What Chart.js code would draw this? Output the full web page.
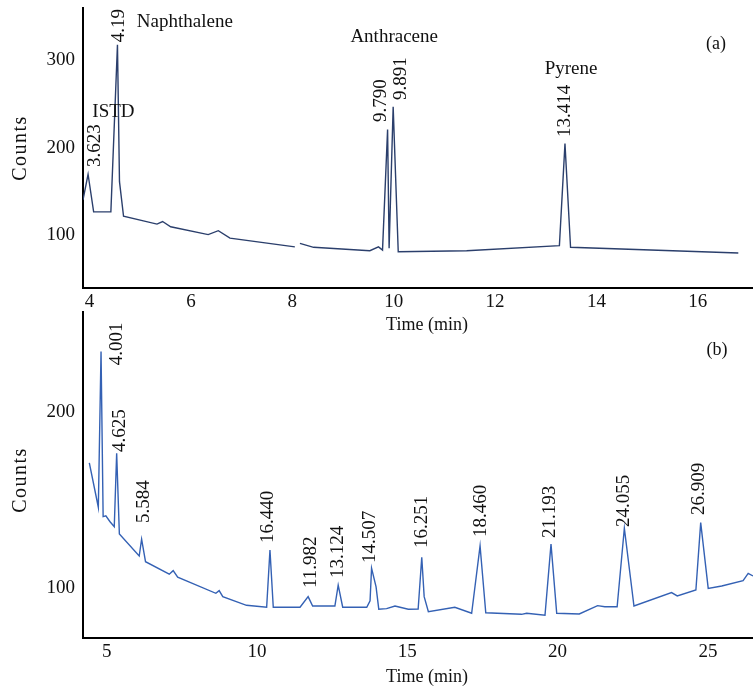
<!DOCTYPE html>
<html>
<head>
<meta charset="utf-8">
<script src="https://cdn.jsdelivr.net/npm/chart.js@4/dist/chart.umd.min.js"></script>
<style>
  body { margin: 0; background: #fff; }
  .wrap { position: relative; width: 753px; height: 688px; }
  canvas { position: absolute; left: 0; }
  #chartA { top: 0; }
  #chartB { top: 300px; }
</style>
</head>
<body>
<div class="wrap">
  <canvas id="chartA" width="753" height="340"></canvas>
  <canvas id="chartB" width="753" height="388"></canvas>
</div>
<script>
// (a) standard chromatogram
const timesA = [3.87, 3.97, 4.08, 4.42, 4.55, 4.59, 4.67, 5.33, 5.44, 5.60, 6.34, 6.54, 6.77, 8.05, 8.10, 8.15, 8.42, 9.53, 9.70, 9.78, 9.88, 9.91, 9.99, 10.09, 11.44, 13.27, 13.38, 13.49, 16.80];
const countsA = [140.6, 170, 127, 127, 318, 161.5, 122, 113, 116, 110, 101, 105.5, 97, 87, null, 91, 86.5, 82.6, 87, 83.4, 221, 85.4, 247, 81.5, 82.6, 88.4, 205, 86.5, 80];
const xTicksA = [4, 6, 8, 10, 12, 14, 16];
const yTicksA = [100, 200, 300];
const peakLabelsA = ['3.623', '4.19', '9.790', '9.891', '13.414'];
const compoundsA = ['ISTD', 'Naphthalene', 'Anthracene', 'Pyrene'];

// (b) sample chromatogram
const timesB = [4.42, 4.72, 4.81, 4.88, 4.97, 5.11, 5.25, 5.33, 5.42, 6.08, 6.16, 6.29, 7.08, 7.21, 7.36, 8.63, 8.74, 8.86, 9.65, 10.32, 10.43, 10.54, 11.43, 11.70, 11.85, 12.59, 12.70, 12.85, 13.65, 13.76, 13.81, 13.96, 14.05, 14.31, 14.59, 15.03, 15.36, 15.48, 15.56, 15.70, 16.58, 17.14, 17.42, 17.61, 18.80, 18.97, 19.58, 19.78, 19.97, 20.72, 21.33, 21.57, 21.98, 22.22, 22.54, 23.79, 23.98, 24.60, 24.76, 25.01, 25.46, 26.17, 26.34, 26.5];
const countsB = [171, 145.9, 234, 140.6, 141, 137.7, 134.9, 176.5, 130.8, 118.3, 127.8, 115.1, 108, 110, 106.3, 97.2, 98.7, 95.3, 90.4, 89.3, 121.7, 89.3, 89.3, 95.3, 90, 90, 101.8, 89.3, 89.3, 93, 111.4, 100.8, 88.2, 88.5, 90, 88.2, 88.3, 117.6, 95.3, 86.8, 89.3, 85.9, 124, 86.2, 85.3, 85.9, 84.8, 125, 85.9, 85.5, 90.2, 89.6, 89.6, 134, 90, 97.6, 95.7, 99.1, 137.2, 100, 101.3, 104.4, 108.5, 107];
const xTicksB = [5, 10, 15, 20, 25];
const yTicksB = [100, 200];
const peakLabelsB = ['4.001', '4.625', '5.584', '16.440', '11.982', '13.124', '14.507', '16.251', '18.460', '21.193', '24.055', '26.909'];

const serif = '"Liberation Serif", "Times New Roman", serif';
const ink = '#111';

// text drawn on top of the chart (peak labels, names, axis titles)
const labelPlugin = {
    id: 'labels',
    afterDraw(chart, args, o) {
        const ctx = chart.ctx;
        const xs = chart.scales.x;
        const ys = chart.scales.y;
        ctx.save();
        ctx.fillStyle = ink;

        // retention times, written upward from the anchor
        ctx.font = '19px ' + serif;
        ctx.textAlign = 'left';
        ctx.textBaseline = 'middle';
        o.peakTexts.forEach((t, i) => {
            const p = o.peakPos[i];
            ctx.save();
            ctx.translate(xs.getPixelForValue(p[0]), ys.getPixelForValue(p[1]));
            ctx.rotate(-Math.PI / 2);
            ctx.fillText(t, 0, 0);
            ctx.restore();
        });

        // compound names
        ctx.textAlign = 'center';
        o.nameTexts.forEach((t, i) => {
            const p = o.namePos[i];
            ctx.fillText(t, xs.getPixelForValue(p[0]), ys.getPixelForValue(p[1]));
        });

        // panel letter
        ctx.font = '18px ' + serif;
        ctx.fillText(o.panel, xs.getPixelForValue(o.panelPos[0]), ys.getPixelForValue(o.panelPos[1]));

        // axis titles
        ctx.fillText('Time (min)', 427, o.xTitleY);
        ctx.save();
        ctx.translate(21, o.yTitleY);
        ctx.rotate(-Math.PI / 2);
        ctx.font = '20px ' + serif;
        ctx.letterSpacing = '1.5px';
        ctx.fillText('Counts', 0, 0);
        ctx.restore();

        ctx.restore();
    }
};

function makeChart(id, times, counts, color, xr, yr, xTicks, yTicks, axisH, padTop, labelOpts) {
    const ctx = document.getElementById(id).getContext('2d');
    return new Chart(ctx, {
        type: 'line',
        data: {
            datasets: [{
                data: times.map((t, i) => ({ x: t, y: counts[i] })),
                borderColor: color,
                borderWidth: 1.4,
                pointRadius: 0,
                tension: 0,
                spanGaps: false
            }]
        },
        options: {
            responsive: false,
            animation: false,
            layout: { padding: { top: padTop, right: 0, left: 0, bottom: 0 } },
            scales: {
                x: {
                    type: 'linear',
                    min: xr[0],
                    max: xr[1],
                    afterBuildTicks: s => { s.ticks = xTicks.map(v => ({ value: v })); },
                    afterFit: s => {
                        s.height = axisH;
                        s.paddingLeft = 0;
                        s.paddingRight = 0;
                    },
                    grid: { display: false, drawTicks: false },
                    border: { display: true, color: '#000', width: 2 },
                    ticks: { color: ink, font: { family: serif, size: 19 }, padding: 3, maxRotation: 0 }
                },
                y: {
                    type: 'linear',
                    min: yr[0],
                    max: yr[1],
                    afterBuildTicks: s => { s.ticks = yTicks.map(v => ({ value: v })); },
                    afterFit: s => {
                        s.width = 83;
                        s.paddingTop = 0;
                        s.paddingBottom = 0;
                    },
                    grid: { display: false, drawTicks: false },
                    border: { display: true, color: '#000', width: 2 },
                    ticks: { color: ink, font: { family: serif, size: 19 }, padding: 8 }
                }
            },
            plugins: {
                legend: { display: false },
                tooltip: { enabled: false },
                labels: labelOpts
            }
        },
        plugins: [labelPlugin]
    });
}

document.addEventListener('DOMContentLoaded', function() {
    makeChart('chartA', timesA, countsA, '#2b3f6c', [3.87, 17.09], [40, 360], xTicksA, yTicksA, 52, 8, {
        peakTexts: peakLabelsA,
        peakPos: [[4.11, 178.3], [4.58, 321], [9.76, 229.7], [10.15, 254.9], [13.38, 212.6]],
        nameTexts: compoundsA,
        namePos: [[4.47, 241], [5.88, 344], [10.01, 326.9], [13.50, 290.3]],
        panel: '(a)',
        panelPos: [16.36, 318.9],
        xTitleY: 325,
        yTitleY: 148
    });

    makeChart('chartB', timesB, countsB, '#3461b4', [4.21, 26.5], [71.9, 256.4], xTicksB, yTicksB, 50, 12, {
        peakTexts: peakLabelsB,
        peakPos: [[5.34, 226.3], [5.44, 177.2], [6.24, 137], [10.36, 125.7], [11.79, 100.2], [12.69, 105.9], [13.76, 114.4], [15.49, 122.9], [17.45, 129.1], [19.74, 128.5], [22.20, 134.7], [24.70, 141.5]],
        nameTexts: [],
        namePos: [],
        panel: '(b)',
        panelPos: [25.30, 234.8],
        xTitleY: 377,
        yTitleY: 180
    });
});
</script>
</body>
</html>
